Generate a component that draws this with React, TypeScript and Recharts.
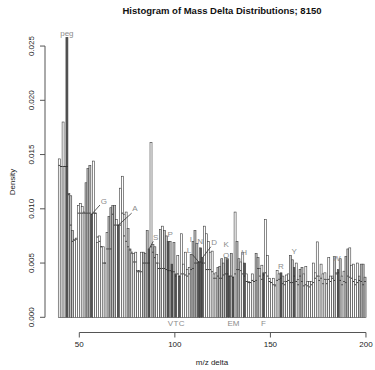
import React from 'react';
import { ComposedChart, Bar, XAxis, YAxis, ReferenceLine, ReferenceDot } from 'recharts';

// m/z delta bins (each bin (n-1, n]) from 40 to 200
const firstBin = 40;
const density = [
  0.0146, 0.0139, 0.0180, 0.0139, 0.0258, 0.0114, 0.0112, 0.0080, 0.0072, 0.0073,
  0.0103, 0.0105, 0.0102, 0.0097, 0.0124, 0.0137, 0.0140, 0.0095, 0.0144, 0.0096,
  0.0069, 0.0075, 0.0065, 0.0065, 0.0050, 0.0078, 0.0093, 0.0101, 0.0103, 0.0103,
  0.0090, 0.0085, 0.0119, 0.0130, 0.0095, 0.0097, 0.0082, 0.0063, 0.0059, 0.0059,
  0.0060, 0.0043, 0.0043, 0.0060, 0.0060, 0.0059, 0.0080, 0.0063, 0.0161, 0.0067,
  0.0065, 0.0058, 0.0050, 0.0081, 0.0084, 0.0080, 0.0075, 0.0070, 0.0070, 0.0049,
  0.0069, 0.0040, 0.0057, 0.0038, 0.0077, 0.0049, 0.0060, 0.0044, 0.0046, 0.0058,
  0.0070, 0.0080, 0.0068, 0.0051, 0.0064, 0.0055, 0.0084, 0.0077, 0.0070, 0.0060,
  0.0061, 0.0040, 0.0041, 0.0046, 0.0047, 0.0054, 0.0050, 0.0055, 0.0054, 0.0038,
  0.0059, 0.0037, 0.0097, 0.0070, 0.0054, 0.0051, 0.0060, 0.0050, 0.0040, 0.0033,
  0.0032, 0.0040, 0.0033, 0.0059, 0.0055, 0.0045, 0.0048, 0.0041, 0.0090, 0.0057,
  0.0036, 0.0032, 0.0036, 0.0030, 0.0043, 0.0040, 0.0041, 0.0038, 0.0033, 0.0039,
  0.0040, 0.0057, 0.0053, 0.0046, 0.0050, 0.0035, 0.0044, 0.0046, 0.0040, 0.0047,
  0.0033, 0.0033, 0.0033, 0.0050, 0.0041, 0.00695, 0.0038, 0.0049, 0.0040, 0.0041,
  0.0035, 0.0055, 0.0038, 0.0038, 0.0056, 0.0041, 0.0044, 0.0054, 0.0038, 0.00425,
  0.0056, 0.0063, 0.0064, 0.0048, 0.0049, 0.0035, 0.0050, 0.0038, 0.0049, 0.0049,
  0.0037,
];

// second (dashed) distribution, one short dash per bin
const background = [
  0.0140, 0.0139, 0.0139, 0.0139, 0.0139, 0.0113, 0.0085, 0.0070, 0.0071, 0.0072,
  0.0096, 0.0096, 0.0096, 0.0096, 0.0096, 0.0096, 0.0096, 0.0095, 0.0096, 0.0096,
  0.0074, 0.0070, 0.0065, 0.0050, 0.0050, 0.0063, 0.0063, 0.0063, 0.0095, 0.0085,
  0.0085, 0.0085, 0.0085, 0.0096, 0.0075, 0.0070, 0.0065, 0.0062, 0.0060, 0.0051,
  0.0051, 0.0042, 0.0042, 0.0042, 0.0050, 0.0050, 0.0050, 0.0050, 0.0065, 0.0060,
  0.0055, 0.0050, 0.0045, 0.0045, 0.0045, 0.0045, 0.0044, 0.0043, 0.0043, 0.0042,
  0.0042, 0.0038, 0.0040, 0.0038, 0.0040, 0.0040, 0.0039, 0.0038, 0.0040, 0.0044,
  0.0045, 0.0050, 0.0050, 0.0051, 0.0051, 0.0050, 0.0050, 0.0044, 0.0044, 0.0044,
  0.0042, 0.0036, 0.0036, 0.0038, 0.0036, 0.0036, 0.0039, 0.0040, 0.0040, 0.0038,
  0.0038, 0.0037, 0.0040, 0.0044, 0.0044, 0.0043, 0.0040, 0.0038, 0.0033, 0.0032,
  0.0032, 0.0034, 0.0033, 0.0034, 0.0045, 0.0038, 0.0035, 0.0039, 0.0041, 0.0038,
  0.0033, 0.0032, 0.0030, 0.0029, 0.0034, 0.0035, 0.0036, 0.0031, 0.0030, 0.0033,
  0.0034, 0.0032, 0.0032, 0.0038, 0.0033, 0.0030, 0.0038, 0.0033, 0.0029, 0.0030,
  0.0029, 0.0028, 0.0030, 0.0032, 0.0036, 0.0038, 0.0034, 0.0036, 0.0031, 0.0035,
  0.0031, 0.0035, 0.0033, 0.0036, 0.0034, 0.0040, 0.0041, 0.0034, 0.0030, 0.0033,
  0.0032, 0.0038, 0.0037, 0.0036, 0.0033, 0.0030, 0.0032, 0.0034, 0.0033, 0.0030,
  0.0033,
];

const darkBins = [44, 57, 71, 87, 97, 99, 101, 103, 113, 114, 115, 128, 129, 131, 137, 147, 156, 163, 186];
const greyBins = [45, 46, 47, 54, 55, 56, 66, 67, 68, 69, 76, 77, 84, 85, 86, 89, 90, 93, 95, 96, 98, 100,
  109, 110, 111, 112, 123, 124, 125, 126, 127, 130, 133, 134, 143, 144, 157, 161, 162, 166, 167, 184, 187,
  190, 191, 197, 198, 199, 200];

const xTicks = [50, 100, 150, 200];
const yTicks = [0, 0.005, 0.01, 0.015, 0.02, 0.025];

const residueLabels = [
  { t: 'peg', mz: 43.5, d: 0.0262 },
  { t: 'G', mz: 62.8, d: 0.0107 },
  { t: 'A', mz: 79.15, d: 0.0100 },
  { t: 'S', mz: 90.0, d: 0.0074 },
  { t: 'P', mz: 97.6, d: 0.0076 },
  { t: 'I', mz: 108.4, d: 0.0072 },
  { t: 'L', mz: 107.4, d: 0.0062 },
  { t: 'N', mz: 113.2, d: 0.00695 },
  { t: 'D', mz: 120.5, d: 0.00685 },
  { t: 'K', mz: 126.8, d: 0.0067 },
  { t: 'Q', mz: 126.8, d: 0.0057 },
  { t: 'H', mz: 136.3, d: 0.0060 },
  { t: 'R', mz: 155.5, d: 0.00464 },
  { t: 'Y', mz: 162.5, d: 0.00605 },
  { t: 'W', mz: 184.7, d: 0.0054 },
  { t: 'V', mz: 97.7, d: -0.00057 },
  { t: 'T', mz: 100.6, d: -0.00057 },
  { t: 'C', mz: 103.5, d: -0.00057 },
  { t: 'E', mz: 129.0, d: -0.00057 },
  { t: 'M', mz: 132.0, d: -0.00057 },
  { t: 'F', mz: 146.4, d: -0.00057 },
];

const leaders = [
  { bin: 57, toMz: 60.8, toD: 0.01035 },
  { bin: 71, toMz: 77.4, toD: 0.0096 },
  { bin: 87, toMz: 88.7, toD: 0.0070 },
  { bin: 113, toMz: 109.1, toD: 0.0058 },
  { bin: 115, toMz: 118.8, toD: 0.0065 },
];

const xDomain: [number, number] = [32.05, 204.73];
const yDomain: [number, number] = [-0.0014, 0.027];

const data = density.map((d, i) => {
  const bin = firstBin + i;
  return {
    x: bin - 0.5,
    bin,
    d,
    bg: background[i],
    kind: darkBins.includes(bin) ? 'dark' : greyBins.includes(bin) ? 'grey' : 'white',
  };
});

const FONT = '"Liberation Sans", Arial, Helvetica, sans-serif';

const HistBar = (props: any) => {
  const { x, y, width, height, payload } = props;
  if (height == null || isNaN(height)) return null;
  const fill = payload.kind === 'dark' ? '#565656' : payload.kind === 'grey' ? '#c4c4c4' : '#ffffff';
  const base = y + height;
  const dy = base - height * (payload.bg / payload.d);
  return (
    <g>
      <rect x={x} y={y} width={width} height={height} fill={fill} stroke="#3c3c3c" strokeWidth={0.6} />
      <line x1={x + 0.2} x2={x + width - 0.2} y1={dy} y2={dy} stroke="#2a2a2a" strokeWidth={0.9} />
    </g>
  );
};

const XTick = (props: any) => {
  const { x, y, payload } = props;
  return (
    <text x={x} y={y + 7} textAnchor="middle" fontSize={8} fill="#222" fontFamily={FONT}>
      {payload.value}
    </text>
  );
};

const YTick = (props: any) => {
  const { y, payload } = props;
  const cx = 32;
  return (
    <text x={cx} y={y} textAnchor="middle" dominantBaseline="central" fontSize={8} fill="#222"
      fontFamily={FONT} transform={`rotate(-90, ${cx}, ${y})`}>
      {Number(payload.value).toFixed(3)}
    </text>
  );
};

export default function App() {
  return (
    <div style={{ position: 'fixed', left: 0, top: 0, width: 375, height: 370, background: '#fff' }}>
      <ComposedChart
        width={375}
        height={370}
        data={data}
        margin={{ top: 24.35, right: 0, bottom: 0, left: 0 }}
        barCategoryGap={0}
        barGap={0}
      >
        <XAxis
          type="number"
          dataKey="x"
          domain={xDomain}
          allowDataOverflow
          ticks={xTicks}
          interval={0}
          height={37.5}
          axisLine={false}
          tickLine={{ stroke: '#555' }}
          tickSize={5}
          tick={<XTick />}
        />
        <YAxis
          type="number"
          domain={yDomain}
          allowDataOverflow
          ticks={yTicks}
          interval={0}
          width={45}
          axisLine={false}
          tickLine={{ stroke: '#555' }}
          tickSize={5}
          tick={<YTick />}
        />
        <Bar dataKey="d" isAnimationActive={false} shape={<HistBar />} />
        <ReferenceLine
          segment={[{ x: xTicks[0], y: yDomain[0] }, { x: xTicks[xTicks.length - 1], y: yDomain[0] }]}
          stroke="#555"
          ifOverflow="visible"
        />
        <ReferenceLine
          segment={[{ x: xDomain[0], y: yTicks[0] }, { x: xDomain[0], y: yTicks[yTicks.length - 1] }]}
          stroke="#555"
          ifOverflow="visible"
        />
        {leaders.map((l) => (
          <ReferenceLine
            key={'l' + l.bin}
            segment={[{ x: l.bin - 0.5, y: density[l.bin - firstBin] }, { x: l.toMz, y: l.toD }]}
            stroke="#333"
            strokeWidth={0.8}
            ifOverflow="visible"
          />
        ))}
        {residueLabels.map((r) => (
          <ReferenceDot
            key={'r' + r.t}
            x={r.mz}
            y={r.d}
            r={0}
            ifOverflow="visible"
            shape={(p: any) => (
              <text x={p.cx} y={p.cy} textAnchor="middle" dominantBaseline="central" fontSize={8}
                fill="#8c8c8c" fontFamily={FONT}>
                {r.t}
              </text>
            )}
          />
        ))}
        <text x={222} y={14} textAnchor="middle" fontSize={9.5} fontWeight="bold" fill="#111" fontFamily={FONT}>
          Histogram of Mass Delta Distributions; 8150
        </text>
        <text x={212} y={365} textAnchor="middle" fontSize={8} fill="#222" fontFamily={FONT}>
          m/z delta
        </text>
        <text x={12} y={182} textAnchor="middle" dominantBaseline="central" fontSize={8} fill="#222"
          fontFamily={FONT} transform="rotate(-90, 12, 182)">
          Density
        </text>
      </ComposedChart>
    </div>
  );
}
